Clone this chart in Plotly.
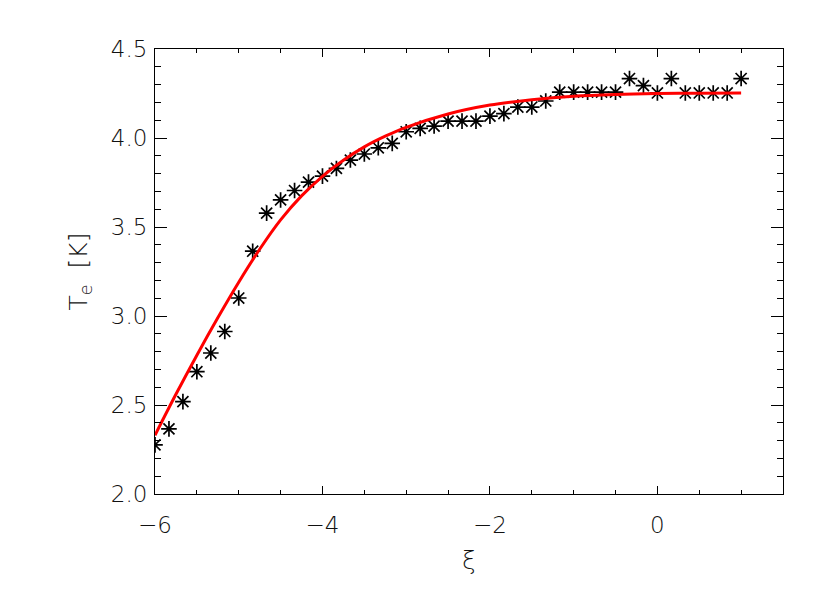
import plotly.graph_objects as go

# measured data (asterisks)
xi_points = [-6 + k / 6 for k in range(43)]
te_points = [2.276, 2.366, 2.519, 2.687, 2.792, 2.913, 3.101, 3.364, 3.578, 3.652,
             3.705, 3.752, 3.786, 3.829, 3.876, 3.910, 3.945, 3.970, 4.035, 4.054,
             4.067, 4.095, 4.095, 4.095, 4.123, 4.137, 4.174, 4.174, 4.208, 4.258,
             4.258, 4.258, 4.258, 4.258, 4.334, 4.294, 4.253, 4.334, 4.253, 4.253,
             4.253, 4.253, 4.334]

# fitted curve (red)
xi_fit = [-6.0, -5.75, -5.5, -5.25, -5.0, -4.75, -4.5, -4.25, -4.0, -3.75, -3.5,
          -3.25, -3.0, -2.5, -2.0, -1.5, -1.0, -0.5, 0.0, 0.5, 1.0]
te_fit = [2.33, 2.56, 2.78, 2.99, 3.19, 3.375, 3.54, 3.675, 3.785, 3.875, 3.95,
          4.01, 4.06, 4.135, 4.185, 4.215, 4.235, 4.245, 4.25, 4.252, 4.253]

x_ticks = [-6, -4, -2, 0]
y_ticks = [2.0, 2.5, 3.0, 3.5, 4.0, 4.5]

FONT = "DejaVu Sans"
TXT = "#111111"
TICKFONT = dict(family=FONT, size=23, color=TXT, weight=200)
TITLEFONT = dict(family=FONT, size=25, color=TXT, weight=200)

fig = go.Figure()
fig.add_trace(go.Scatter(
    x=xi_points, y=te_points, mode="markers",
    marker=dict(symbol="asterisk-open", size=13, color="black",
                line=dict(color="black", width=1.7)),
    showlegend=False, cliponaxis=True))
fig.add_trace(go.Scatter(
    x=xi_fit, y=te_fit, mode="lines", line=dict(color="#ff0000", width=3, shape="spline", smoothing=1.0),
    showlegend=False))

fig.update_layout(
    width=822, height=585,
    margin=dict(l=147, r=47, t=41, b=99),
    plot_bgcolor="white", paper_bgcolor="white",
    font=TICKFONT,
)
fig.update_xaxes(
    range=[-6, 1.5], tickvals=x_ticks, ticktext=["\u22126", "\u22124", "\u22122", "0"],
    ticks="inside", ticklen=8, tickwidth=1, tickcolor="black",
    minor=dict(dtick=0.5, ticks="inside", ticklen=4, tickwidth=1, tickcolor="black"),
    showline=True, linecolor="black", linewidth=1, mirror="ticks",
    showgrid=False, zeroline=False, ticklabelstandoff=10,
    title=dict(text="\u03be", font=TITLEFONT, standoff=14),
    tickfont=TICKFONT,
)
fig.update_yaxes(
    range=[2.0, 4.5], tickvals=y_ticks, ticktext=["2.0", "2.5", "3.0", "3.5", "4.0", "4.5"],
    ticks="inside", ticklen=12, tickwidth=1, tickcolor="black",
    minor=dict(dtick=0.1, ticks="inside", ticklen=6, tickwidth=1, tickcolor="black"),
    showline=True, linecolor="black", linewidth=1, mirror="ticks",
    showgrid=False, zeroline=False, ticklabelstandoff=2,
    title=dict(text="T<sub>e</sub>  [K]", font=TITLEFONT, standoff=16),
    tickfont=TICKFONT,
)

fig.write_html("out.html")
